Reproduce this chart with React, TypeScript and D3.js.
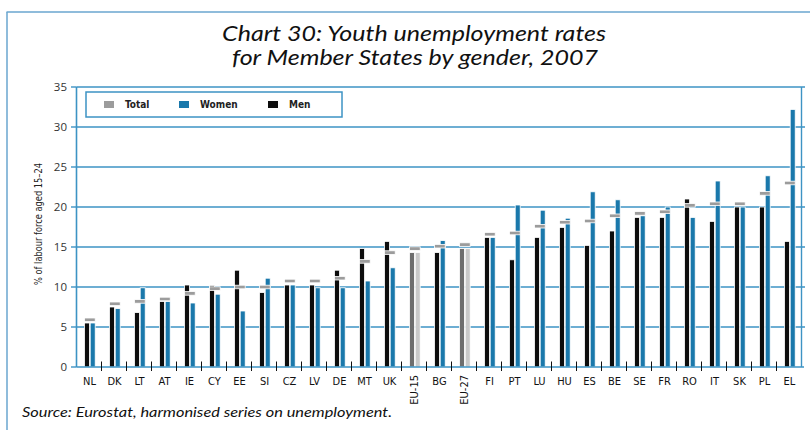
import React from "react";
import * as d3 from "d3";

const categories = ["NL","DK","LT","AT","IE","CY","EE","SI","CZ","LV","DE","MT","UK","EU-15","BG","EU-27","FI","PT","LU","HU","ES","BE","SE","FR","RO","IT","SK","PL","EL"];
const menValues = [5.5,7.5,6.8,8.2,10.25,10.2,12.1,9.3,10.25,10.25,12.1,14.8,15.7,14.3,14.3,14.8,16.2,13.4,16.2,17.45,15.2,17.0,18.7,18.7,21.0,18.2,20.0,20.0,15.7];
const womenValues = [5.5,7.3,9.9,8.2,8.0,9.1,7.0,11.1,10.25,9.9,9.9,10.75,12.4,14.3,15.8,14.8,16.2,20.25,19.6,18.6,21.9,20.9,18.9,20.0,18.7,23.25,20.0,23.9,32.2];
const totalValues = [5.9,7.9,8.2,8.5,9.2,9.8,10.0,10.0,10.75,10.75,11.1,13.2,14.3,14.8,15.1,15.3,16.6,16.75,17.6,18.1,18.25,18.9,19.2,19.4,20.2,20.4,20.4,21.7,23.0];
const yTicks = [0,5,10,15,20,25,30,35];
const legendItems = ["Total","Women","Men"];

const BLUE_LINE = "#3d93c4";
const WOMEN = "#1a78ab";
const MEN = "#0d0d0d";
const TOTAL = "#9c9c9c";
const EU_MEN = "#6e6e6e";
const EU_WOMEN = "#c9c9c9";
const FRAME = "#6aa6cf";
const narrow = "'Liberation Sans Narrow', 'Arial Narrow', 'DejaVu Sans Condensed', sans-serif";

export default function App() {
  const x = d3.scaleBand<string>().domain(categories).range([76.5, 801.5]).padding(0);
  const y = d3.scaleLinear().domain([0, 35]).range([367, 87]);
  const bw = x.bandwidth();
  const barW = 5;

  return (
    <svg width={810} height={430} style={{ position: "absolute", left: 0, top: 0, background: "#fff" }}>
      {/* frame */}
      <line x1={6.5} x2={810} y1={12} y2={12} stroke={FRAME} strokeWidth={1.5} />
      <line x1={7} x2={7} y1={12} y2={430} stroke={FRAME} strokeWidth={1.5} />

      {/* title */}
      <text x={414} y={41} textAnchor="middle" fontFamily="Lato, 'Open Sans', sans-serif" fontStyle="italic" fontSize={21} fill="#111" textLength={384} lengthAdjust="spacingAndGlyphs">Chart 30: Youth unemployment rates</text>
      <text x={415} y={65} textAnchor="middle" fontFamily="Lato, 'Open Sans', sans-serif" fontStyle="italic" fontSize={21} fill="#111" textLength={366} lengthAdjust="spacingAndGlyphs">for Member States by gender, 2007</text>

      {/* gridlines */}
      {yTicks.filter(t => t > 0).map(t => (
        <line key={"g" + t} x1={76.5} x2={805} y1={y(t)} y2={y(t)} stroke={BLUE_LINE} strokeWidth={1.4} />
      ))}
      {/* left ticks */}
      {yTicks.map(t => (
        <line key={"lt" + t} x1={71} x2={76.5} y1={y(t)} y2={y(t)} stroke={BLUE_LINE} strokeWidth={1.4} />
      ))}
      {/* y tick labels */}
      {yTicks.map(t => (
        <text key={"yl" + t} x={67} y={y(t)} dy="0.35em" textAnchor="end" fontFamily="'Open Sans', sans-serif" fontSize={11.5} fill="#333">{t}</text>
      ))}
      {/* y axis title */}
      <text transform={`translate(42,224) rotate(-90)`} textAnchor="middle" fontFamily={narrow} fontSize={10} fill="#222" textLength={122} lengthAdjust="spacingAndGlyphs">% of labour force aged 15–24</text>

      {/* bars */}
      {categories.map((c, i) => {
        const cx = (x(c) as number) + bw / 2;
        const isEU = c.startsWith("EU");
        const mx = cx - 4.5;
        const wx = cx + 1.2;
        return (
          <g key={c}>
            <rect x={mx} y={y(menValues[i])} width={barW} height={y(0) - y(menValues[i])} fill={isEU ? EU_MEN : MEN} stroke="#fff" strokeWidth={0.8} />
            <rect x={wx} y={y(womenValues[i])} width={barW} height={y(0) - y(womenValues[i])} fill={isEU ? EU_WOMEN : WOMEN} stroke="#fff" strokeWidth={0.8} />
            <rect x={mx} y={y(totalValues[i]) - 1.8} width={wx + barW - mx} height={3.6} fill={TOTAL} stroke="#fff" strokeWidth={0.8} />
          </g>
        );
      })}

      {/* axes */}
      <line x1={76.5} x2={76.5} y1={87} y2={367} stroke={BLUE_LINE} strokeWidth={1.6} />
      <line x1={801.5} x2={801.5} y1={87} y2={367} stroke={BLUE_LINE} strokeWidth={1.4} />
      <line x1={76.5} x2={804} y1={367} y2={367} stroke={BLUE_LINE} strokeWidth={1.6} />
      {categories.slice(1).map(c => (
        <line key={"xt" + c} x1={x(c) as number} x2={x(c) as number} y1={361.5} y2={371} stroke="#111" strokeWidth={1} />
      ))}

      {/* x labels */}
      {categories.map(c => {
        const cx = (x(c) as number) + bw / 2;
        if (c.startsWith("EU")) {
          return (
            <text key={"xl" + c} transform={`translate(${cx + 4},375) rotate(-90)`} textAnchor="end" fontFamily={narrow} fontSize={11} fill="#111">{c}</text>
          );
        }
        return (
          <text key={"xl" + c} x={cx + 0.5} y={385} textAnchor="middle" fontFamily={narrow} fontSize={11} fill="#111">{c}</text>
        );
      })}

      {/* legend */}
      <rect x={86} y={92} width={256} height={25} fill="#fff" stroke={BLUE_LINE} strokeWidth={1.5} />
      {legendItems.map((name, i) => {
        const sx = [104, 179, 268][i];
        const col = [TOTAL, WOMEN, MEN][i];
        return (
          <g key={name}>
            <rect x={sx} y={101} width={10} height={7} fill={col} />
            <text x={sx + 21} y={108} fontFamily={narrow} fontSize={10} fontWeight="bold" fill="#222">{name}</text>
          </g>
        );
      })}

      {/* source */}
      <text x={22} y={417} fontFamily="Lato, 'Open Sans', sans-serif" fontStyle="italic" fontSize={13} fill="#111" textLength={370} lengthAdjust="spacingAndGlyphs">Source: Eurostat, harmonised series on unemployment.</text>
    </svg>
  );
}
